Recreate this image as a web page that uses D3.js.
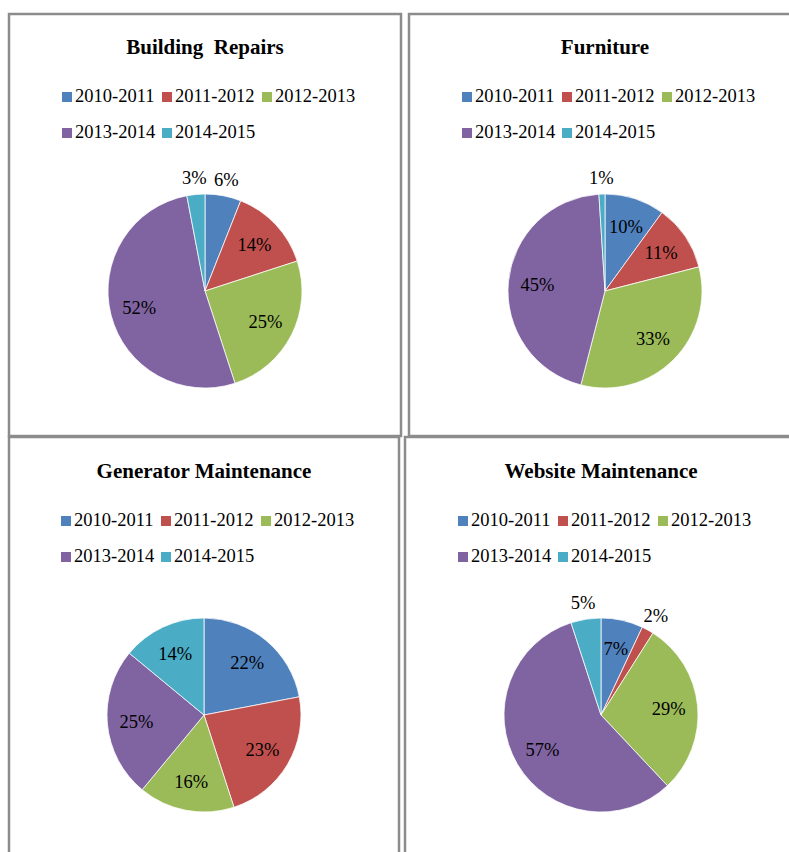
<!DOCTYPE html>
<html>
<head>
<meta charset="utf-8">
<script src="https://cdn.jsdelivr.net/npm/d3@7"></script>
<style>
  html, body { margin: 0; padding: 0; background: #ffffff; }
  svg { display: block; }
  text { font-family: "Liberation Serif", "Times New Roman", serif; fill: #000; }
</style>
</head>
<body>
<svg id="chart" width="789" height="852"></svg>
<script>
// ---- data ----
const categories = ["2010-2011", "2011-2012", "2012-2013", "2013-2014", "2014-2015"];
const titles = ["Building  Repairs", "Furniture", "Generator Maintenance", "Website Maintenance"];
const buildingRepairs = [6, 14, 25, 52, 3];
const furniture = [10, 11, 33, 45, 1];
const generatorMaintenance = [22, 23, 16, 25, 14];
const websiteMaintenance = [7, 2, 29, 57, 5];
const colors = ["#4F81BD", "#C0504D", "#9BBB59", "#8064A2", "#4BACC6"];

const seriesList = [buildingRepairs, furniture, generatorMaintenance, websiteMaintenance];

// ---- layout ----
const panels = [
  { x0: 9,   x1: 401, y0: 14,  y1: 436, cx: 205, top: 13 },
  { x0: 409, x1: 802, y0: 14,  y1: 436, cx: 605, top: 13 },
  { x0: 9,   x1: 399, y0: 437, y1: 870, cx: 204, top: 437 },
  { x0: 405, x1: 798, y0: 437, y1: 870, cx: 601, top: 437 }
];

const svg = d3.select("#chart");
const color = d3.scaleOrdinal().domain(categories).range(colors);
const R = 97;
const pie = d3.pie().sort(null).value(d => d.value);
const arc = d3.arc().innerRadius(0).outerRadius(R);
const inLabelArc = d3.arc().innerRadius(R * 0.70).outerRadius(R * 0.70);
const outLabelArc = d3.arc().innerRadius(R + 17).outerRadius(R + 17);

panels.forEach((p, i) => {
  // border
  svg.append("rect")
    .attr("x", p.x0).attr("y", p.y0)
    .attr("width", p.x1 - p.x0).attr("height", p.y1 - p.y0)
    .attr("fill", "none").attr("stroke", "#8c8c8c").attr("stroke-width", 2.5);

  const g = svg.append("g");

  // title
  g.append("text")
    .attr("x", p.cx).attr("y", p.top + 41)
    .attr("text-anchor", "middle")
    .style("white-space", "pre")
    .attr("font-size", 21).attr("font-weight", "bold")
    .text(titles[i]);

  // legend
  const legendX = p.cx - 143;
  const legend = g.append("g").selectAll("g")
    .data(categories)
    .join("g")
    .attr("transform", (d, k) => {
      const row = k < 3 ? 0 : 1;
      const col = k < 3 ? k : k - 3;
      return `translate(${legendX + col * 100},${p.top + 89 + row * 36})`;
    });
  legend.append("rect")
    .attr("x", 0).attr("y", -10).attr("width", 10).attr("height", 10)
    .attr("fill", d => color(d));
  legend.append("text")
    .attr("x", 13).attr("y", 0)
    .attr("font-size", 18.5)
    .text(d => d);

  // pie
  const data = categories.map((c, k) => ({ cat: c, value: seriesList[i][k] }));
  const arcs = pie(data);
  const pg = g.append("g").attr("transform", `translate(${p.cx},${p.top + 278})`);
  pg.selectAll("path")
    .data(arcs)
    .join("path")
    .attr("d", arc)
    .attr("fill", d => color(d.data.cat))
    .attr("stroke", "#ffffff").attr("stroke-width", 0.75);

  pg.selectAll("text")
    .data(arcs)
    .join("text")
    .attr("transform", d => {
      const c = (d.data.value < 7 ? outLabelArc : inLabelArc).centroid(d);
      return `translate(${c[0]},${c[1]})`;
    })
    .attr("dy", "0.35em")
    .attr("text-anchor", "middle")
    .attr("font-size", 18.5)
    .text(d => d.data.value + "%");
});
</script>
</body>
</html>
